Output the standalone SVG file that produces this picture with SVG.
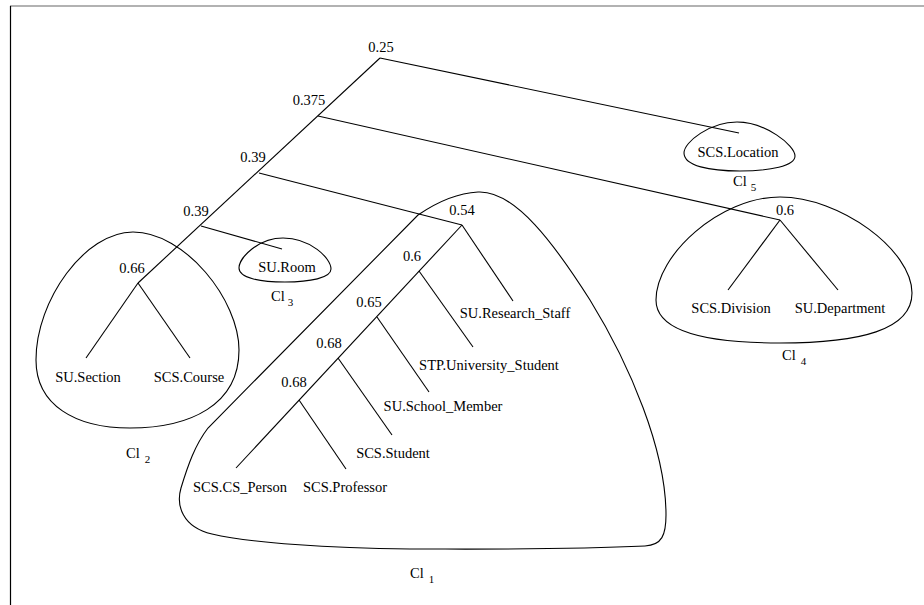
<svg xmlns="http://www.w3.org/2000/svg" width="924" height="605" viewBox="0 0 924 605" font-family="'Liberation Serif', 'Times New Roman', Times, serif">
<style>
text{font-family:'Liberation Serif','Times New Roman',Times,serif;font-size:14.5px;fill:#000}
.m{text-anchor:middle}
.sub{font-size:11px}
.ln{stroke:#000;stroke-width:1.1;fill:none}
.blob{stroke:#000;stroke-width:1.1;fill:none}
</style>
<rect width="924" height="605" fill="#fff"/>
<line x1="10" y1="6" x2="924" y2="6" stroke="#666" stroke-width="1.2"/>
<line x1="10.5" y1="6" x2="10.5" y2="605" stroke="#000" stroke-width="1.2"/>

<g id="connectors" class="ln">
<line x1="380" y1="58" x2="739" y2="133"/>
<line x1="380" y1="58" x2="138" y2="283"/>
<line x1="318" y1="116" x2="780" y2="220"/>
<line x1="259" y1="173" x2="462" y2="225"/>
<line x1="201" y1="226" x2="282" y2="249"/>
<line x1="138" y1="283" x2="86" y2="358"/>
<line x1="138" y1="283" x2="190" y2="358"/>
<line x1="462" y1="225" x2="513" y2="301"/>
<line x1="462" y1="225" x2="236" y2="468"/>
<line x1="419" y1="271" x2="473" y2="347"/>
<line x1="377" y1="317" x2="429" y2="392"/>
<line x1="338" y1="358" x2="392" y2="435"/>
<line x1="299" y1="400" x2="346" y2="469"/>
<line x1="780" y1="220" x2="728" y2="290"/>
<line x1="780" y1="220" x2="838" y2="290"/>
</g>

<g id="merge-025"><text class="m" x="381" y="52">0.25</text></g>
<g id="merge-0375"><text class="m" x="309" y="105">0.375</text></g>
<g id="merge-039a"><text class="m" x="253" y="162">0.39</text></g>
<g id="merge-039b"><text class="m" x="196" y="216">0.39</text></g>
<g id="merge-066"><text class="m" x="132" y="273">0.66</text></g>
<g id="merge-054"><text class="m" x="462" y="215">0.54</text></g>
<g id="merge-06a"><text class="m" x="412" y="261">0.6</text></g>
<g id="merge-065"><text class="m" x="369" y="307">0.65</text></g>
<g id="merge-068a"><text class="m" x="329" y="348">0.68</text></g>
<g id="merge-068b"><text class="m" x="294" y="387">0.68</text></g>
<g id="merge-06b"><text class="m" x="785" y="215">0.6</text></g>

<g id="cl1">
<path class="blob" d="M478,192 C515,190 555,245 590,300 C630,365 666,450 666,515 C666,535 662,545 645,546 C560,550 480,549 410,549 C330,548 250,543 212,534 C182,527 176,505 181,488 C188,465 195,445 208,428 L418,215 C440,200 458,193 478,192 Z"/>
<text x="410" y="578">Cl<tspan class="sub" dx="5" dy="5">1</tspan></text>
</g>
<g id="cl2">
<path class="blob" d="M133,232 C185,232 239,300 239,350 C239,405 190,428 130,428 C75,428 36,405 36,360 C36,300 85,232 133,232 Z"/>
<text x="126" y="458">Cl<tspan class="sub" dx="5" dy="5">2</tspan></text>
</g>
<g id="cl3">
<path class="blob" d="M283,238 C310,238 331,258 331,269 C331,278 310,282 285,282 C260,282 239,278 239,268 C239,258 258,238 283,238 Z"/>
<text x="271" y="301">Cl<tspan class="sub" dx="3" dy="5">3</tspan></text>
</g>
<g id="cl4">
<path class="blob" d="M780,197 C840,197 912,250 912,293 C912,330 860,343 780,343 C700,343 656,330 656,300 C656,255 720,197 780,197 Z"/>
<text x="782" y="360">Cl<tspan class="sub" dx="5" dy="5">4</tspan></text>
</g>
<g id="cl5">
<path class="blob" d="M737,122 C765,122 795,145 795,156 C795,166 770,171 740,171 C710,171 684,166 684,153 C684,142 710,122 737,122 Z"/>
<text x="733" y="186">Cl<tspan class="sub" dx="4" dy="5">5</tspan></text>
</g>

<g id="leaf-su-section"><text class="m" x="88" y="382">SU.Section</text></g>
<g id="leaf-scs-course"><text class="m" x="189" y="382">SCS.Course</text></g>
<g id="leaf-su-room"><text class="m" x="287" y="272">SU.Room</text></g>
<g id="leaf-su-research-staff"><text class="m" x="515" y="318">SU.Research_Staff</text></g>
<g id="leaf-stp-university-student"><text class="m" x="489" y="370">STP.University_Student</text></g>
<g id="leaf-su-school-member"><text class="m" x="443" y="411">SU.School_Member</text></g>
<g id="leaf-scs-student"><text class="m" x="393" y="458">SCS.Student</text></g>
<g id="leaf-scs-cs-person"><text class="m" x="240" y="492">SCS.CS_Person</text></g>
<g id="leaf-scs-professor"><text class="m" x="345" y="492">SCS.Professor</text></g>
<g id="leaf-scs-location"><text class="m" x="738" y="157">SCS.Location</text></g>
<g id="leaf-scs-division"><text class="m" x="731" y="313">SCS.Division</text></g>
<g id="leaf-su-department"><text class="m" x="840" y="313">SU.Department</text></g>
</svg>
